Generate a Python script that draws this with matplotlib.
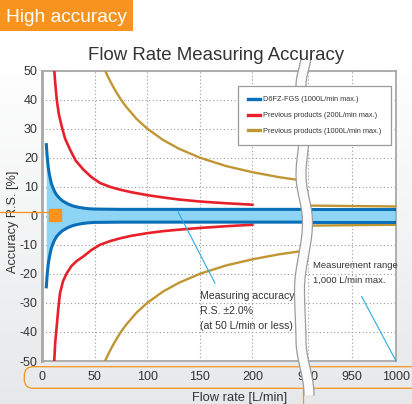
import numpy as np
import matplotlib
matplotlib.use("Agg")
import matplotlib.pyplot as plt
from matplotlib import transforms as mt
from matplotlib.patches import Rectangle, FancyBboxPatch, Polygon
from matplotlib.lines import Line2D

plt.rcParams['font.family'] = ['Liberation Sans', 'DejaVu Sans']
plt.rcParams['axes.unicode_minus'] = False

# ---------------- data ----------------
blue_x = [4, 5, 6, 7, 8, 9, 10, 12, 14, 17, 20, 25, 30, 35, 40, 45, 50, 75, 100, 150, 200, 248]
blue_y = [25, 20, 16.5, 14.3, 12.5, 11, 10, 8.3, 7.1, 5.9, 5, 4, 3.3, 2.9, 2.6, 2.4, 2.3, 2.2, 2.2, 2.2, 2.2, 2.2]
blue_x2 = [890, 1000]
blue_y2 = [2.2, 2.2]

red_up_x = [11.5, 12.5, 14, 16, 18.7, 22, 26.6, 32, 39.3, 47, 55, 65, 75, 85, 100, 115, 130, 150, 175, 200]
red_up_y = [51, 46, 40, 35, 30.8, 26.5, 22.8, 19, 15.9, 13.3, 11.3, 9.9, 8.9, 8.1, 7.1, 6.3, 5.6, 4.9, 4.3, 3.8]
red_lo_x = [11.5, 12.5, 14, 15.5, 17.1, 20, 23.5, 28, 33, 39.3, 47, 55, 65, 75, 85, 100, 115, 130, 150, 175, 200]
red_lo_y = [-51, -44, -38, -32, -26.7, -22.5, -19.8, -17.3, -15.6, -14, -11.8, -10, -8.7, -7.7, -6.9, -6, -5.3, -4.8, -4.2, -3.6, -3.1]

gold_x = [60, 62, 66, 70, 75, 80, 90, 100, 115, 130, 150, 175, 200, 225, 248]
gold_y = [50, 48.4, 45.5, 42.9, 40, 37.5, 33.3, 30, 26.1, 23.1, 20, 17.1, 15, 13.3, 12.1]
gold_x2 = [890, 1000]
gold_up2 = [3.5, 3.2]
gold_lo2 = [-3.4, -3.1]

x_ticks = [0, 50, 100, 150, 200, 900, 950, 1000]
x_labels = ["0", "50", "100", "150", "200", "900", "950", "1000"]
y_ticks = list(range(-50, 51, 10))

legend_labels = ["D6FZ-FGS (1000L/min max.)",
                 "Previous products (200L/min max.)",
                 "Previous products (1000L/min max.)"]

C_BLUE = "#0a6fb8"
C_FILL = "#8dd4f5"
C_RED = "#e8202a"
C_GOLD = "#bf9633"
C_ORANGE = "#f7931e"
C_CYAN = "#29abe2"
C_TXT = "#333333"

# ---------------- broken x scale ----------------
def fwd(x):
    x = np.asarray(x, dtype=float)
    return np.where(x <= 250, x,
                    np.where(x < 900, 250 + (x - 250) * (2.85 / 650),
                             252.85 + (x - 900) * 0.8365))

def inv(u):
    u = np.asarray(u, dtype=float)
    return np.where(u <= 250, u,
                    np.where(u < 252.85, 250 + (u - 250) * (650 / 2.85),
                             900 + (u - 252.85) / 0.8365))

W, H = 412, 404
fig = plt.figure(figsize=(W / 100, H / 100), dpi=100)
tpx = mt.Affine2D().scale(1, -1).translate(0, H)   # image pixels (top-left origin)

# background gradient
bg = fig.add_axes([0, 0, 1, 1], zorder=-10)
bg.axis('off')
t = np.clip((np.arange(H) - 60) / (H - 60), 0, 1)
top = np.array([1.0, 1.0, 1.0]); bot = np.array([0.905, 0.91, 0.915])
img = top[None, :] * (1 - t[:, None]) + bot[None, :] * t[:, None]
bg.imshow(np.repeat(img[:, None, :], 4, axis=1), aspect='auto', extent=[0, 1, 0, 1])

ax = fig.add_axes([42 / W, 1 - 361 / H, (396 - 42) / W, (361 - 70.5) / H])
ax.set_xscale('function', functions=(fwd, inv))
ax.set_xlim(0, 1000)
ax.set_ylim(-50, 50)
ax.set_facecolor('white')

ax.fill_between(blue_x, blue_y, -np.array(blue_y), color=C_FILL, lw=0, zorder=2)
ax.fill_between(blue_x2, blue_y2, -np.array(blue_y2), color=C_FILL, lw=0, zorder=2)
ax.plot(blue_x, blue_y, color=C_BLUE, lw=2.2, zorder=4, solid_capstyle='butt')
ax.plot(blue_x, -np.array(blue_y), color=C_BLUE, lw=2.2, zorder=4, solid_capstyle='butt')
ax.plot(blue_x2, blue_y2, color=C_BLUE, lw=2.2, zorder=4)
ax.plot(blue_x2, -np.array(blue_y2), color=C_BLUE, lw=2.2, zorder=4)

ax.plot(red_up_x, red_up_y, color=C_RED, lw=1.9, zorder=3)
ax.plot(red_lo_x, red_lo_y, color=C_RED, lw=1.9, zorder=3)

ax.plot(gold_x, gold_y, color=C_GOLD, lw=1.7, zorder=3)
ax.plot(gold_x, -np.array(gold_y), color=C_GOLD, lw=1.7, zorder=3)
ax.plot(gold_x2, gold_up2, color=C_GOLD, lw=1.7, zorder=3)
ax.plot(gold_x2, gold_lo2, color=C_GOLD, lw=1.7, zorder=3)

# orange marker
ax.plot([12.8], [0.2], marker='s', ms=8.9, color=C_ORANGE, mec=C_ORANGE, zorder=6, clip_on=False)

ax.set_xticks(x_ticks)
ax.set_xticklabels(x_labels)
ax.set_yticks(y_ticks)
ax.set_yticklabels([str(v) for v in y_ticks])
ax.xaxis.set_minor_locator(matplotlib.ticker.NullLocator())
ax.tick_params(axis='x', length=0, pad=7.2, labelsize=9, labelcolor=C_TXT)
ax.tick_params(axis='y', length=0, pad=3, labelsize=9, labelcolor=C_TXT)
ax.grid(True, color='#9a9a9a', linestyle=(0, (1, 2.2)), lw=0.8, zorder=1)
ax.set_axisbelow(True)
for s in ax.spines.values():
    s.set_color('#a8a8a8'); s.set_linewidth(1.3)
ax.spines['left'].set_linewidth(2.0)

# annotations
ax.plot([129.3, 164.4], [1.4, -23.2], color=C_CYAN, lw=0.8, zorder=7)
ax.plot([961, 1000], [-27.8, -50], color=C_CYAN, lw=0.8, zorder=7, clip_on=False)
ax.text(150.2, -32.8, "Measuring accuracy\nR.S. \u00b12.0%\n(at 50 L/min or less)",
        fontsize=7.6, color=C_TXT, ha='left', va='center', linespacing=1.65, zorder=8)
ax.text(905.3, -19.6, "Measurement range\n1,000 L/min max.",
        fontsize=6.8, color=C_TXT, ha='left', va='center', linespacing=1.8, zorder=8)

# legend
handles = [Line2D([], [], color=C_BLUE, lw=2.4),
           Line2D([], [], color=C_RED, lw=2.4),
           Line2D([], [], color=C_GOLD, lw=2.4)]
leg = ax.legend(handles, legend_labels, loc='upper left', bbox_to_anchor=(237.7, 86),
                bbox_transform=tpx, borderaxespad=0, fancybox=False, framealpha=1,
                edgecolor='#9a9a9a', handlelength=1.6, handletextpad=0.4,
                labelspacing=1.15, borderpad=1.4, fontsize=5.3)
leg.get_frame().set_linewidth(0.9)
for tx in leg.get_texts():
    tx.set_color(C_TXT)
leg.set_zorder(20)

# axis break (decoration)
cy = [55, 85, 125, 175, 222, 290, 340, 395]
cxp = [306, 301, 305, 301, 307.5, 299.5, 301, 309]
ys, xs = [], []
for i in range(len(cy) - 1):
    tt = np.linspace(0, 1, 20, endpoint=False)
    e = (1 - np.cos(np.pi * tt)) / 2
    ys.extend(cy[i] + (cy[i + 1] - cy[i]) * tt)
    xs.extend(cxp[i] + (cxp[i + 1] - cxp[i]) * e)
ys.append(cy[-1]); xs.append(cxp[-1])
ys = np.array(ys); xs = np.array(xs)
hw = 5.0
poly = np.vstack([np.column_stack([xs - hw, ys]), np.column_stack([xs + hw, ys])[::-1]])
brk = Polygon(poly, closed=True, facecolor='#fbfbfb', edgecolor='none', transform=tpx,
              clip_on=False, zorder=15)
ax.add_patch(brk)
for sgn in (-1, 1):
    ax.add_line(Line2D(xs + sgn * hw, ys, color='#9c9c9c', lw=0.9, transform=tpx,
                       clip_on=False, zorder=16))

# orange frame around x tick labels
box = FancyBboxPatch((24.3, 366.7), 420 - 24.3, 388.3 - 366.7,
                     boxstyle="round,pad=0,rounding_size=9", transform=tpx,
                     facecolor='none', edgecolor=C_ORANGE, lw=0.9, zorder=-1)
fig.add_artist(box)
fig.add_artist(Line2D([303.3, 303.3], [388.3, 405], color=C_ORANGE, lw=0.9, transform=tpx, zorder=-1))
# orange leader line to marker
fig.add_artist(Line2D([0, 49.5], [211.7, 211.7], color=C_ORANGE, lw=0.9, transform=tpx, zorder=5))

# header badge
fig.add_artist(Rectangle((0, 0), 133, 30.7, transform=tpx, facecolor=C_ORANGE, edgecolor='none', zorder=1))
fig.text(6, 21.7, "High accuracy", transform=tpx, color='white', fontsize=13.8,
         ha='left', va='baseline', zorder=2)

# titles / labels
fig.text(216, 60, "Flow Rate Measuring Accuracy", transform=tpx, color=C_TXT,
         fontsize=13.4, ha='center', va='baseline')
fig.text(13.5, 221.5, "Accuracy R.S. [%]", transform=tpx, color=C_TXT, fontsize=9.2,
         rotation=90, ha='center', va='center')
fig.text(239.5, 401.5, "Flow rate [L/min]", transform=tpx, color=C_TXT, fontsize=9.25,
         ha='center', va='baseline')

fig.savefig("out.png", dpi=100)
